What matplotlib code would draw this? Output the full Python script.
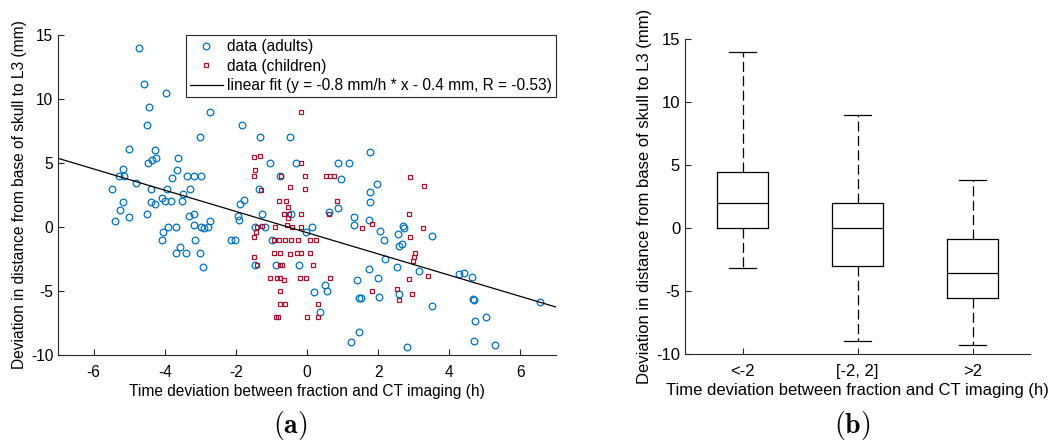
import numpy as np
import matplotlib
matplotlib.use("Agg")
import matplotlib.pyplot as plt

# scatter data: (time deviation h, length deviation mm)
adults_x = [-4.72, -4.58, -3.96, -4.45, -2.72, -4.50, -3.00, -5.00, -4.26, -3.63, -4.48, -4.37,
            -4.24, -5.17, -3.66, -5.29, -5.14, -3.79, -3.38, -3.19, -2.99, -4.81, -5.47, -4.38,
            -3.93, -3.28, -3.48,
            -5.17, -5.25, -5.40, -5.00, -4.39, -4.27, -4.08, -3.98, -3.81, -3.51, -4.50, -4.06,
            -3.90, -3.67, -4.08, -3.32, -3.17, -3.18, -2.98, -2.89, -2.77, -2.73, -3.15, -3.56,
            -3.69, -3.41, -3.00, -2.91,
            -1.84, -1.32, -0.49, 1.76, -1.05, -0.32, 0.86, 1.17, -0.75, 0.95, 1.97, 1.78, -1.34,
            -1.77, -1.88, -1.95, -1.90, -2.13, -2.01, -1.26, -1.46, -1.17, -0.98, -1.45, -0.88,
            -0.45, -0.02, 0.13, -0.23, 0.61, 0.88, 1.33, 1.31, 1.76, 1.74, 2.04, 2.17, 2.19,
            1.74, 2.01, 1.41, 0.52, 0.56, 0.20, 1.46, 1.51, 2.02, 0.37, 1.46, 1.23,
            2.70, 2.73, 2.57, 3.52, 2.59, 2.68, 2.52, 3.14, 4.28, 4.42, 4.64, 2.60, 4.66, 4.70,
            6.56, 3.52, 5.03, 4.72, 2.81, 4.70, 5.28]
adults_y = [14.0, 11.2, 10.5, 9.35, 9.0, 8.0, 7.0, 6.07, 6.0, 5.36, 5.0, 5.23,
            5.42, 4.53, 4.48, 4.0, 4.0, 3.8, 4.0, 4.0, 4.0, 3.44, 3.0, 3.0,
            3.0, 3.0, 2.6,
            1.93, 1.33, 0.49, 0.76, 1.98, 1.82, 2.24, 2.0, 2.0, 2.0, 1.0, -0.39,
            0.0, 0.0, -1.0, 0.83, 1.0, 0.18, 0.0, -0.08, 0.0, 0.47, -1.0, -1.56,
            -2.0, -2.0, -2.0, -3.15,
            8.0, 7.0, 7.0, 5.86, 5.0, 5.0, 5.0, 5.0, 4.0, 3.78, 3.33, 2.71, 3.0,
            2.11, 1.80, 0.86, 0.55, -1.0, -1.0, 1.0, 0.0, 0.0, -1.0, -3.0, -3.0,
            1.0, -0.36, 0.0, -3.0, 1.15, 1.48, 0.76, 0.16, 1.93, 0.55, -0.29, -1.0, -2.52,
            -3.30, -3.96, -4.11, -4.53, -4.97, -5.08, -5.52, -5.52, -5.49, -6.61, -8.18, -9.01,
            0.05, -0.1, -0.57, -0.70, -1.48, -1.30, -3.15, -3.41, -3.70, -3.62, -3.91, -5.26,
            -5.60, -5.73, -5.86, -6.17, -7.03, -7.37, -9.35, -8.93, -9.24]

children_x = [-0.17, -1.49, -1.32, -0.18, -1.45, -1.50, -0.72, -0.07, 0.54, 0.65, 0.76, -0.49,
              -0.07, -1.30, 2.91, 3.28,
              -0.80, -0.60, 0.83, -0.52, -0.65, -0.50, -0.17, 0.62, -0.52, -1.27, -1.41, -1.43,
              -1.48, -0.90, -0.55, -0.43, -0.17, 1.56, 1.82, -0.94, -0.79, -0.62, -0.44, -0.24,
              0.08, 0.24, -1.50, -0.93, -0.76, -0.49, -0.27, -0.16, 0.08, -1.41, -0.76, -0.71,
              0.18, -1.04, -0.85, -0.76, -0.66, -0.20, -0.02, 0.64, -0.75, 1.84, -0.75, -0.63,
              0.30, -0.88, -0.81, 0.0, 0.30,
              2.86, 3.25, 2.91, 3.05, 3.02, 2.97, 3.39, 2.86, 2.54, 2.96, 2.60]
children_y = [9.0, 5.44, 5.55, 5.0, 4.45, 4.0, 4.0, 4.0, 4.0, 4.0, 4.0, 3.15,
              3.0, 2.87, 3.88, 3.23,
              2.0, 2.0, 2.0, 1.54, 1.0, 1.0, 1.0, 1.0, 0.68, 0.10, 0.0, -0.36,
              -0.81, 0.0, 0.16, 0.0, 0.0, -0.10, 0.23, -1.0, -1.0, -1.0, -1.0, -1.0,
              -1.0, -1.0, -2.34, -2.0, -2.0, -2.11, -2.0, -2.0, -2.0, -2.97, -3.0, -3.0,
              -3.0, -4.0, -4.0, -4.0, -4.17, -4.0, -4.0, -4.0, -5.0, -5.0, -6.0, -6.0,
              -6.0, -7.0, -7.0, -7.0, -7.0,
              1.0, -0.05, -0.80, -2.0, -2.34, -2.63, -3.80, -4.06, -4.87, -5.21, -5.68]

fit_slope = -0.83
fit_intercept = -0.44
fit_x = [-7, 7]

# box plot statistics per time-deviation group
groups = ["<-2", "[-2, 2]", ">2"]
whisker_hi = [14.0, 9.0, 3.85]
q3 = [4.45, 2.0, -0.85]
medians = [2.0, 0.0, -3.6]
q1 = [0.0, -3.0, -5.55]
whisker_lo = [-3.15, -9.0, -9.3]

plt.rcParams["font.family"] = ["Liberation Sans", "DejaVu Sans"]
plt.rcParams["axes.unicode_minus"] = False
plt.rcParams["mathtext.fontset"] = "cm"
axis_color = "#262626"
ylab = "Deviation in distance from base of skull to L3 (mm)"
xlab = "Time deviation between fraction and CT imaging (h)"

fig = plt.figure(figsize=(10.49, 4.45), dpi=100)
ax1 = fig.add_axes([0.0553, 0.2022, 0.4747, 0.719])
ax2 = fig.add_axes([0.653, 0.2045, 0.329, 0.707])


def style_axes(ax, fs):
    ax.spines["top"].set_visible(False)
    ax.spines["right"].set_visible(False)
    for s in ("left", "bottom"):
        ax.spines[s].set_color(axis_color)
        ax.spines[s].set_linewidth(0.8)
    ax.tick_params(direction="in", length=4, width=0.8, colors=axis_color,
                   labelcolor="black", labelsize=fs)
    ax.tick_params(axis="x", pad=7)
    ax.set_ylabel(ylab, fontsize=fs, labelpad=3)
    ax.set_xlabel(xlab, fontsize=fs, labelpad=3)


style_axes(ax1, 11.2)
style_axes(ax2, 12)

# (a) scatter
ax1.plot(adults_x, adults_y, "o", ms=4.8, mfc="none", mec="#0072BD", mew=0.9,
         label="data (adults)")
ax1.plot(children_x, children_y, "s", ms=3.3, mfc="none", mec="#A2142F", mew=0.9,
         label="data (children)")
fit_y = [fit_slope * x + fit_intercept for x in fit_x]
ax1.plot(fit_x, fit_y, "-", color="black", lw=0.9,
         label="linear fit (y = -0.8 mm/h * x - 0.4 mm, R = -0.53)")
ax1.set_xlim(-7, 7)
ax1.set_ylim(-10, 15)
ax1.set_xticks([-6, -4, -2, 0, 2, 4, 6])
ax1.set_yticks([-10, -5, 0, 5, 10, 15])
leg = ax1.legend(loc="upper right", borderaxespad=0, fancybox=False, framealpha=1,
                 edgecolor=axis_color, fontsize=11.2, handlelength=2.1,
                 borderpad=0.25, labelspacing=0.3, handletextpad=0.3)
leg.get_frame().set_linewidth(0.8)

# (b) box plot
stats = []
for i in range(len(groups)):
    stats.append({"label": groups[i], "whishi": whisker_hi[i], "q3": q3[i],
                  "med": medians[i], "q1": q1[i], "whislo": whisker_lo[i]})
ax2.bxp(stats, positions=[1, 2, 3], widths=0.45, showfliers=False,
        boxprops=dict(color="black", lw=0.9),
        medianprops=dict(color="black", lw=0.9),
        whiskerprops=dict(color="black", lw=0.9, linestyle=(0, (8, 3.5))),
        capprops=dict(color="black", lw=0.9), capwidths=0.23)
ax2.set_xlim(0.5, 3.5)
ax2.set_ylim(-10, 15)
ax2.set_yticks([-10, -5, 0, 5, 10, 15])

fig.text(0.277, 0.006, r"$\mathbf{(a)}$", ha="center", va="bottom", fontsize=20)
fig.text(0.812, 0.006, r"$\mathbf{(b)}$", ha="center", va="bottom", fontsize=20)

fig.savefig("out.png", dpi=100)
